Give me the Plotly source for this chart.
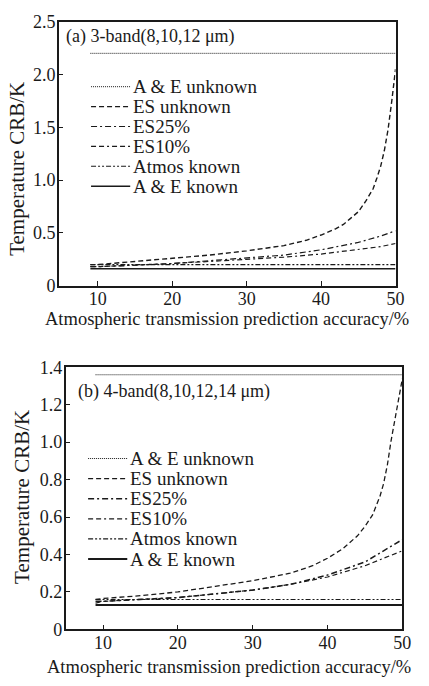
import plotly.graph_objects as go

# ---------------- data ----------------
names = ["A & E unknown", "ES unknown", "ES25%", "ES10%", "Atmos known", "A & E known"]

# panel (a) 3-band
a_flat_x = [9, 50]
a_ae_unknown = [2.2, 2.2]
a_es_x = [9, 10, 15, 20, 25, 30, 35, 38, 40, 42, 43, 44, 45, 46, 47, 47.5, 48, 48.5, 49, 49.5, 50]
a_es_unknown = [0.20, 0.20, 0.23, 0.26, 0.29, 0.33, 0.38, 0.43, 0.48, 0.54, 0.58, 0.64, 0.70, 0.80, 0.92, 1.02, 1.13, 1.28, 1.48, 1.75, 2.05]
a_es_pct_x = [9, 10, 20, 30, 35, 40, 45, 48, 50]
a_es25 = [0.18, 0.18, 0.21, 0.26, 0.29, 0.34, 0.41, 0.47, 0.52]
a_es10 = [0.18, 0.18, 0.21, 0.25, 0.27, 0.30, 0.34, 0.37, 0.40]
a_atmos_known = [0.20, 0.20]
a_ae_known = [0.16, 0.16]

# panel (b) 4-band
b_flat_x = [9, 50]
b_ae_unknown = [1.36, 1.36]
b_es_x = [9, 10, 15, 20, 25, 30, 35, 38, 40, 42, 44, 45, 46, 47, 47.5, 48, 48.5, 49, 49.5, 50]
b_es_unknown = [0.16, 0.165, 0.18, 0.20, 0.23, 0.26, 0.30, 0.34, 0.38, 0.43, 0.50, 0.55, 0.61, 0.71, 0.78, 0.88, 1.01, 1.12, 1.25, 1.34]
b_es_pct_x = [9, 10, 20, 30, 35, 40, 45, 48, 50]
b_es25 = [0.15, 0.15, 0.17, 0.21, 0.24, 0.29, 0.36, 0.43, 0.48]
b_es10 = [0.14, 0.15, 0.17, 0.21, 0.24, 0.28, 0.34, 0.39, 0.42]
b_atmos_known = [0.16, 0.16]
b_ae_known = [0.13, 0.13]

x_ticks = [10, 20, 30, 40, 50]
a_yticks = [0, 0.5, 1.0, 1.5, 2.0, 2.5]
a_yticktext = ["0", "0.5", "1.0", "1.5", "2.0", "2.5"]
b_yticks = [0, 0.2, 0.4, 0.6, 0.8, 1.0, 1.2, 1.4]
b_yticktext = ["0", "0.2", "0.4", "0.6", "0.8", "1.0", "1.2", "1.4"]

# ---------------- styles ----------------
INK = "#1a1a1a"
FONT = "Liberation Serif"
dashes = ["1px,1px", "5px,3px", "6px,3px,2px,3px", "5px,3px,5px,3px,2px,3px", "5px,2px,2px,2px,2px,2px", "solid"]
widths_a = [1, 1.4, 1.2, 1.2, 1.1, 1.5]
widths_b = [1, 1.3, 1.5, 1.2, 1.1, 2.0]

W, H = 429, 686
def px_x(p): return p / W
def px_y(p): return 1 - p / H

fig = go.Figure()

def add_panel(xs_list, ys_list, xaxis, yaxis, widths):
    for name, xs, ys, d, w in zip(names, xs_list, ys_list, dashes, widths):
        fig.add_trace(go.Scatter(
            x=xs, y=ys, mode="lines", name=name, showlegend=False,
            line=dict(color=INK, width=w, dash=d),
            xaxis=xaxis, yaxis=yaxis, hoverinfo="skip"))

add_panel([a_flat_x, a_es_x, a_es_pct_x, a_es_pct_x, a_flat_x, a_flat_x],
          [a_ae_unknown, a_es_unknown, a_es25, a_es10, a_atmos_known, a_ae_known],
          "x", "y", widths_a)
add_panel([b_flat_x, b_es_x, b_es_pct_x, b_es_pct_x, b_flat_x, b_flat_x],
          [b_ae_unknown, b_es_unknown, b_es25, b_es10, b_atmos_known, b_ae_known],
          "x2", "y2", widths_b)

# ---------------- hand-built legends (sample line + label) ----------------
LEG_FONT = dict(family=FONT, size=19, color=INK)
def add_legend(x0, y0, step, widths):
    for i, (name, d, w) in enumerate(zip(names, dashes, widths)):
        yy = y0 + i * step
        fig.add_shape(type="line", xref="paper", yref="paper",
                      x0=px_x(x0), x1=px_x(x0 + 40), y0=px_y(yy), y1=px_y(yy),
                      line=dict(color=INK, width=w, dash=d))
        fig.add_annotation(xref="paper", yref="paper", showarrow=False,
                           text=name, x=px_x(x0 + 41), y=px_y(yy),
                           xanchor="left", yanchor="middle", font=LEG_FONT)

add_legend(93, 79, 20.5, widths_a)
add_legend(90, 462, 20.7, widths_b)

axis_common = dict(showline=True, linecolor=INK, linewidth=1.5, mirror=True,
                   ticks="inside", ticklen=5, tickcolor=INK, tickwidth=1.2,
                   showgrid=False, zeroline=False,
                   tickfont=dict(family=FONT, size=18, color=INK))

fig.update_layout(
    width=W, height=H,
    margin=dict(l=0, r=0, t=0, b=0),
    paper_bgcolor="white", plot_bgcolor="white",
    showlegend=False,
    xaxis=dict(domain=[px_x(60), px_x(404)], range=[4.75, 50], tickvals=x_ticks,
               anchor="y", ticklabelstandoff=-4, **axis_common),
    yaxis=dict(domain=[px_y(284), px_y(12)], range=[0, 2.5], tickvals=a_yticks,
               ticktext=a_yticktext, anchor="x", ticklabelstandoff=-2, **axis_common),
    xaxis2=dict(domain=[px_x(67), px_x(411)], range=[5, 50], tickvals=x_ticks,
                anchor="y2", ticklabelstandoff=-4, **axis_common),
    yaxis2=dict(domain=[px_y(638), px_y(368)], range=[0, 1.4], tickvals=b_yticks,
                ticktext=b_yticktext, anchor="x2", ticklabelstandoff=-2, **axis_common),
)

title_font = dict(family=FONT, size=18, color=INK)
ytitle_font = dict(family=FONT, size=21, color=INK)
xtitle_font = dict(family=FONT, size=18.5, color=INK)
annots = [
    dict(text="(a) 3-band(8,10,12 μm)", x=px_x(65), y=px_y(27), xanchor="left", yanchor="middle", font=title_font),
    dict(text="(b) 4-band(8,10,12,14 μm)", x=px_x(78), y=px_y(393), xanchor="left", yanchor="middle", font=title_font),
    dict(text="Temperature CRB/K", x=px_x(18), y=px_y(164), textangle=-90, xanchor="center", yanchor="middle",
         font=ytitle_font),
    dict(text="Temperature CRB/K", x=px_x(23), y=px_y(502), textangle=-90, xanchor="center", yanchor="middle",
         font=ytitle_font),
    dict(text="Atmospheric transmission prediction accuracy/%", x=px_x(232), y=px_y(318), xanchor="center", yanchor="middle",
         font=xtitle_font),
    dict(text="Atmospheric transmission prediction accuracy/%", x=px_x(234), y=px_y(677), xanchor="center", yanchor="middle",
         font=xtitle_font),
]
for a in annots:
    fig.add_annotation(xref="paper", yref="paper", showarrow=False, **a)

fig.write_html("out.html")
